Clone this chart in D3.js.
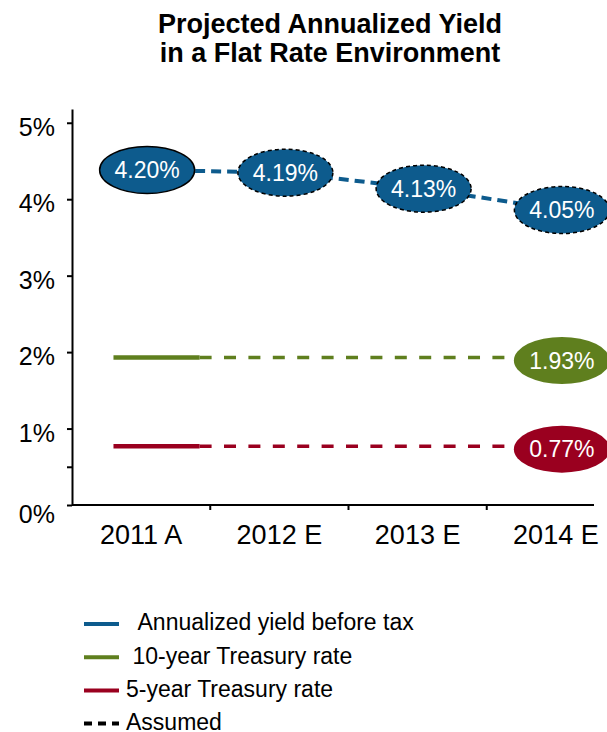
<!DOCTYPE html>
<html>
<head>
<meta charset="utf-8">
<script src="https://cdn.jsdelivr.net/npm/d3@7"></script>
<style>
  body { margin: 0; background: #fff; }
  svg { display: block; font-family: "Liberation Sans", Arial, sans-serif; }
</style>
</head>
<body>
<div id="chart"></div>
<script>
// values
const categories = ['2011 A', '2012 E', '2013 E', '2014 E'];
const yieldBeforeTax = [4.20, 4.19, 4.13, 4.05];
const tenYearRate = [1.93, 1.93, 1.93, 1.93];
const fiveYearRate = [0.77, 0.77, 0.77, 0.77];
const yTickValues = [0, 0.5, 1, 2, 3, 4, 5];
const titleLines = ['Projected Annualized Yield', 'in a Flat Rate Environment'];
const legendLabels = ['  Annualized yield before tax', ' 10-year Treasury rate', '5-year Treasury rate', 'Assumed'];

const colors = { yield: '#0d5b8d', ten: '#5f7f1e', five: '#9a001f' };

const width = 607, height = 732;
const plot = { left: 72, right: 625, top: 109, bottom: 505, axisEnd: 594 };

const svg = d3.select('#chart').append('svg')
    .attr('width', width)
    .attr('height', height);

svg.append('g')
    .selectAll('text')
    .data(titleLines)
    .join('text')
    .attr('x', 330)
    .attr('y', (d, i) => 33 + i * 29)
    .attr('text-anchor', 'middle')
    .attr('font-weight', 'bold')
    .attr('font-size', 27)
    .text(d => d);

const x = d3.scaleBand()
    .domain(categories)
    .range([plot.left, plot.right]);
const bw = x.bandwidth();

const y = d3.scaleLinear()
    .domain([0, 5.18])
    .range([plot.bottom, plot.top]);

// the yield callouts sit on their own stretched scale in the original
const yCallout = d3.scaleLinear()
    .domain([4.05, 4.20])
    .range([210, 170]);

const cx = c => x(c) + bw / 2 + 6;

// axes
const yAxis = svg.append('g')
    .attr('transform', `translate(${plot.left},0)`)
    .call(d3.axisLeft(y)
        .tickValues(yTickValues)
        .tickSize(5)
        .tickSizeOuter(0)
        .tickPadding(12)
        .tickFormat(d => Number.isInteger(d) ? d + '%' : ''));
yAxis.selectAll('text').attr('font-size', 25).attr('fill', '#000')
    .attr('dy', d => d === 0 ? '0.7em' : '0.5em')
    .attr('font-family', '"Liberation Sans", Arial, sans-serif');
yAxis.selectAll('line, path').attr('stroke', '#000').attr('stroke-width', 2);

const xAxis = svg.append('g')
    .attr('transform', `translate(0,${plot.bottom})`)
    .call(d3.axisBottom(x)
        .tickSize(0)
        .tickPadding(20));
xAxis.select('.domain').attr('d', `M${plot.left},0H${plot.axisEnd}`)
    .attr('stroke', '#000').attr('stroke-width', 2);
xAxis.selectAll('text').attr('font-size', 27).attr('fill', '#000')
    .attr('font-family', '"Liberation Sans", Arial, sans-serif');
// boundary ticks between categories
xAxis.append('g')
    .selectAll('line')
    .data(categories.slice(1))
    .join('line')
    .attr('x1', d => x(d)).attr('x2', d => x(d))
    .attr('y1', 0).attr('y2', 5)
    .attr('stroke', '#000').attr('stroke-width', 2);

// treasury rate lines: solid for actual, dashed for assumed
function rateLine(values, color) {
    const c0 = categories[0];
    const last = categories.length - 1;
    const xs = x(c0) + bw * 0.3, xe = x(c0) + bw * 0.923;
    svg.append('line')
        .attr('x1', xs).attr('x2', xe)
        .attr('y1', y(values[0])).attr('y2', y(values[0]))
        .attr('stroke', color).attr('stroke-width', 4.5);
    svg.append('line')
        .attr('x1', xe).attr('x2', cx(categories[last]))
        .attr('y1', y(values[0])).attr('y2', y(values[last]))
        .attr('stroke', color).attr('stroke-width', 3.5)
        .attr('stroke-dasharray', '12,12.4');
}
rateLine(tenYearRate, colors.ten);
rateLine(fiveYearRate, colors.five);

// yield line
const yieldPts = categories.map((c, i) => ({ c, v: yieldBeforeTax[i] }));
svg.append('path')
    .datum(yieldPts)
    .attr('fill', 'none')
    .attr('stroke', colors.yield)
    .attr('stroke-width', 4)
    .attr('stroke-dasharray', '10,6')
    .attr('d', d3.line().x(d => cx(d.c)).y(d => yCallout(d.v)));

const fmt = v => d3.format('.2f')(v) + '%';

// yield callouts
const yieldCallouts = svg.append('g')
    .selectAll('g')
    .data(yieldPts)
    .join('g')
    .attr('transform', d => `translate(${cx(d.c)},${yCallout(d.v)})`);
yieldCallouts.append('ellipse')
    .attr('rx', 47.5).attr('ry', 23.5)
    .attr('fill', colors.yield)
    .attr('stroke', '#000')
    .attr('stroke-width', 1.5)
    .attr('stroke-dasharray', (d, i) => i === 0 ? null : '4,3');
yieldCallouts.append('text')
    .attr('text-anchor', 'middle')
    .attr('dy', '0.36em')
    .attr('font-size', 23)
    .attr('fill', '#fff')
    .text(d => fmt(d.v));

// treasury callouts on the last category
const lastCat = categories[categories.length - 1];
const rateCallouts = svg.append('g')
    .selectAll('g')
    .data([
        { v: tenYearRate[tenYearRate.length - 1], color: colors.ten },
        { v: fiveYearRate[fiveYearRate.length - 1], color: colors.five }
    ])
    .join('g')
    .attr('transform', d => `translate(${cx(lastCat)},${y(d.v) + 3})`);
rateCallouts.append('ellipse')
    .attr('rx', 48).attr('ry', 23.5)
    .attr('fill', d => d.color);
rateCallouts.append('text')
    .attr('text-anchor', 'middle')
    .attr('dy', '0.36em')
    .attr('font-size', 23)
    .attr('fill', '#fff')
    .text(d => fmt(d.v));

// legend
const legendColors = [colors.yield, colors.ten, colors.five, '#000'];
const legend = svg.append('g')
    .selectAll('g')
    .data(legendLabels)
    .join('g')
    .attr('transform', (d, i) => `translate(84,${624 + i * 33.2})`);
legend.append('line')
    .attr('x1', 0).attr('x2', 35)
    .attr('stroke', (d, i) => legendColors[i])
    .attr('stroke-width', 4)
    .attr('stroke-dasharray', (d, i) => i === 3 ? '8,6' : null);
legend.append('text')
    .attr('x', 42)
    .attr('dy', '0.28em')
    .attr('font-size', 23)
    .attr('xml:space', 'preserve')
    .style('white-space', 'pre')
    .text(d => d);
</script>
</body>
</html>
